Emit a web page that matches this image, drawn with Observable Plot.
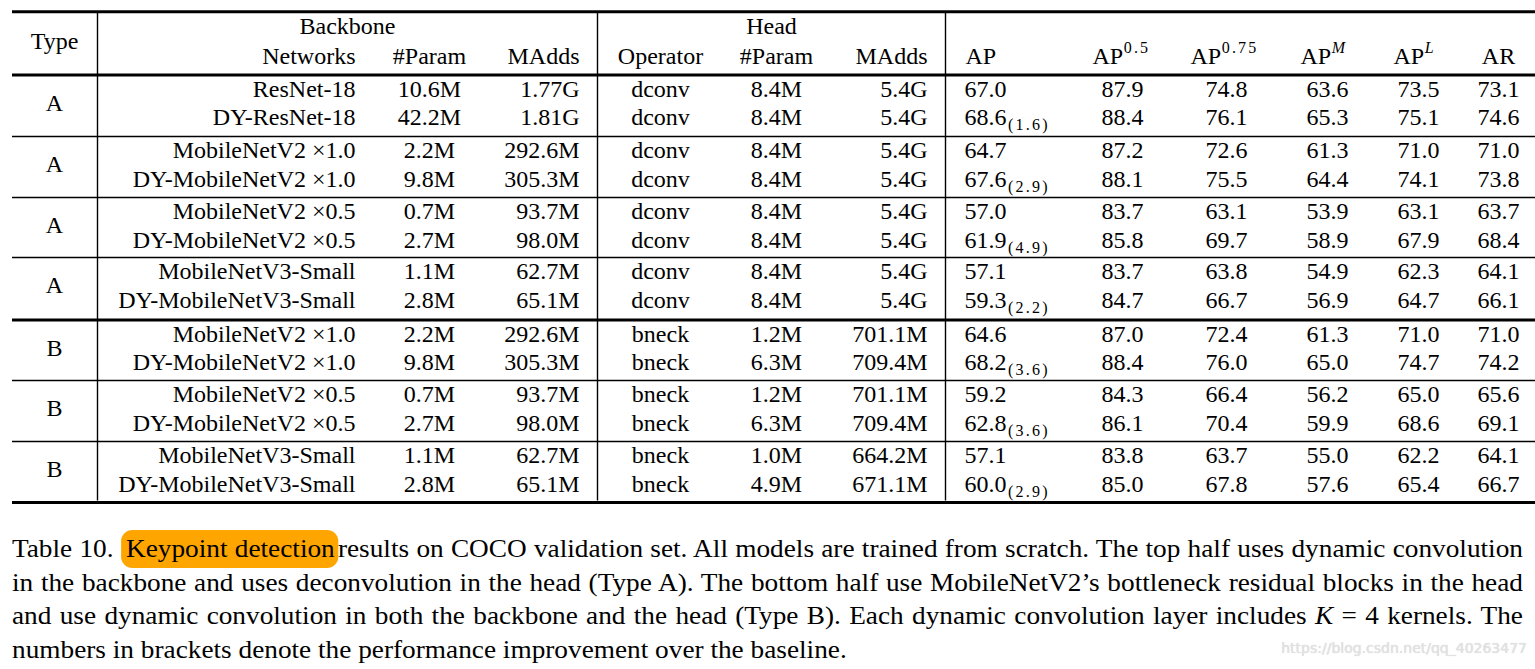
<!DOCTYPE html>
<html>
<head>
<meta charset="utf-8">
<script src="https://cdn.jsdelivr.net/npm/d3@7"></script>
<script src="https://cdn.jsdelivr.net/npm/@observablehq/plot@0.6"></script>
<style>
  html, body { margin: 0; padding: 0; background: #fff; }
  #wrap { position: relative; width: 1535px; height: 669px; overflow: hidden; background: #fff; }
  #chart svg { display: block; }
  .sub text, .sup text { letter-spacing: 2.2px; }
  #caption { position: absolute; left: 12px; top: 532px; width: 1511px; transform-origin: 0 0;
    font-family: "Liberation Serif", "Times New Roman", serif; font-size: 26px; line-height: 33.5px; color: #000; }
  #caption div { white-space: nowrap; }
  #caption .j { text-align: justify; text-align-last: justify; }
  #caption .hl { background: #FFA500; border-radius: 11px; padding: 4px 3px 5px 5px; }
  #wm { position: absolute; right: 8px; top: 640px; font-family: "DejaVu Sans", sans-serif; font-size: 14px;
    color: #e2e2e2; text-shadow: 0 0 1px #cfcfcf; }
</style>
</head>
<body>
<div id="wrap">
  <div id="chart"></div>
  <div id="caption"></div>
  <div id="wm">https://blog.csdn.net/qq_40263477</div>
</div>
<script>
// ---------------- data ----------------
const types = ["A", "A", "A", "A", "B", "B", "B"];
const networks = ["ResNet-18", "DY-ResNet-18",
  "MobileNetV2 ×1.0", "DY-MobileNetV2 ×1.0",
  "MobileNetV2 ×0.5", "DY-MobileNetV2 ×0.5",
  "MobileNetV3-Small", "DY-MobileNetV3-Small",
  "MobileNetV2 ×1.0", "DY-MobileNetV2 ×1.0",
  "MobileNetV2 ×0.5", "DY-MobileNetV2 ×0.5",
  "MobileNetV3-Small", "DY-MobileNetV3-Small"];
const bbParam = ["10.6M", "42.2M", "2.2M", "9.8M", "0.7M", "2.7M", "1.1M", "2.8M",
  "2.2M", "9.8M", "0.7M", "2.7M", "1.1M", "2.8M"];
const bbMAdds = ["1.77G", "1.81G", "292.6M", "305.3M", "93.7M", "98.0M", "62.7M", "65.1M",
  "292.6M", "305.3M", "93.7M", "98.0M", "62.7M", "65.1M"];
const operators = ["dconv", "dconv", "dconv", "dconv", "dconv", "dconv", "dconv", "dconv",
  "bneck", "bneck", "bneck", "bneck", "bneck", "bneck"];
const headParam = ["8.4M", "8.4M", "8.4M", "8.4M", "8.4M", "8.4M", "8.4M", "8.4M",
  "1.2M", "6.3M", "1.2M", "6.3M", "1.0M", "4.9M"];
const headMAdds = ["5.4G", "5.4G", "5.4G", "5.4G", "5.4G", "5.4G", "5.4G", "5.4G",
  "701.1M", "709.4M", "701.1M", "709.4M", "664.2M", "671.1M"];
const ap    = [67.0, 68.6, 64.7, 67.6, 57.0, 61.9, 57.1, 59.3, 64.6, 68.2, 59.2, 62.8, 57.1, 60.0];
const apGain = [null, 1.6, null, 2.9, null, 4.9, null, 2.2, null, 3.6, null, 3.6, null, 2.9];
const ap50  = [87.9, 88.4, 87.2, 88.1, 83.7, 85.8, 83.7, 84.7, 87.0, 88.4, 84.3, 86.1, 83.8, 85.0];
const ap75  = [74.8, 76.1, 72.6, 75.5, 63.1, 69.7, 63.8, 66.7, 72.4, 76.0, 66.4, 70.4, 63.7, 67.8];
const apM   = [63.6, 65.3, 61.3, 64.4, 53.9, 58.9, 54.9, 56.9, 61.3, 65.0, 56.2, 59.9, 55.0, 57.6];
const apL   = [73.5, 75.1, 71.0, 74.1, 63.1, 67.9, 62.3, 64.7, 71.0, 74.7, 65.0, 68.6, 62.2, 65.4];
const ar    = [73.1, 74.6, 71.0, 73.8, 63.7, 68.4, 64.1, 66.1, 71.0, 74.2, 65.6, 69.1, 64.1, 66.7];

const groupLabels = ["Backbone", "Head"];
const subHeaders = ["Networks", "#Param", "MAdds", "Operator", "#Param", "MAdds", "AP", "AR"];
const supHeaders = ["0.5", "0.75", "M", "L"];

// ---------------- layout ----------------
const W = 1535, H = 510;
const FF = "Liberation Serif, Times New Roman, serif";
const FS = 24, SFS = 16;
const groupTop = [74.5, 136, 197, 257, 319.5, 380, 441];
const thinRules = [136, 197, 257, 380, 441];
const thickRules = [11.3, 74.5, 319.5, 502];
const vRules = [97, 597, 945];

const ctx = document.createElement("canvas").getContext("2d");
function tw(s, size, style = "") {
  ctx.font = `${style} ${size}px "Liberation Serif"`;
  return ctx.measureText(s).width;
}

const fmt = v => v.toFixed(1);
const rows = networks.map((n, i) => {
  const g = Math.floor(i / 2), r = i % 2;
  return {
    y: groupTop[g] + 14 + r * 28.5,
    network: n, bbParam: bbParam[i], bbMAdds: bbMAdds[i], operator: operators[i],
    headParam: headParam[i], headMAdds: headMAdds[i],
    ap: fmt(ap[i]), gain: apGain[i], ap50: fmt(ap50[i]), ap75: fmt(ap75[i]),
    apM: fmt(apM[i]), apL: fmt(apL[i]), ar: fmt(ar[i])
  };
});
const groups = types.map((t, g) => ({ type: t, y: groupTop[g] + 14 + 14.25 }));
const gainRows = rows.filter(d => d.gain != null);

const cols = [
  { key: "network", x: 355, anchor: "end" },
  { key: "bbParam", x: 429, anchor: "middle" },
  { key: "bbMAdds", x: 579, anchor: "end" },
  { key: "operator", x: 660, anchor: "middle" },
  { key: "headParam", x: 776, anchor: "middle" },
  { key: "headMAdds", x: 927, anchor: "end" },
  { key: "ap", x: 964, anchor: "start" },
  { key: "ap50", x: 1122, anchor: "middle" },
  { key: "ap75", x: 1226, anchor: "middle" },
  { key: "apM", x: 1327, anchor: "middle" },
  { key: "apL", x: 1418, anchor: "middle" },
  { key: "ar", x: 1498, anchor: "middle" }
];

const headRow2 = [
  { t: subHeaders[0], x: 355, a: "end" },
  { t: subHeaders[1], x: 429, a: "middle" },
  { t: subHeaders[2], x: 579, a: "end" },
  { t: subHeaders[3], x: 660, a: "middle" },
  { t: subHeaders[4], x: 776, a: "middle" },
  { t: subHeaders[5], x: 927, a: "end" },
  { t: subHeaders[6], x: 965, a: "start" },
  { t: subHeaders[7], x: 1498, a: "middle" }
];
const headRow1 = [
  { t: groupLabels[0], x: 347 },
  { t: groupLabels[1], x: 771 }
];
const supStarts = [1092, 1190, 1300, 1393];
const supItalic = [false, false, true, true];
const supData = supHeaders.map((s, i) => ({
  base: "AP", sup: s, x: supStarts[i], xs: supStarts[i] + tw("AP", FS) + 0.5, italic: supItalic[i]
}));

const txt = (data, o) => Plot.text(data, { fontFamily: FF, fontSize: FS, fill: "#000", ...o });

const marks = [
  Plot.ruleY(thinRules, { y: d => d, x1: () => 12, x2: () => W, stroke: "#000", strokeWidth: 1.4 }),
  Plot.ruleY(thickRules, { y: d => d, x1: () => 12, x2: () => W, stroke: "#000", strokeWidth: 3 }),
  Plot.ruleX(vRules, { x: d => d, y1: () => 12.5, y2: () => 500.5, stroke: "#000", strokeWidth: 1.4 }),
  txt([{ t: "Type" }], { x: () => 54, y: () => 41, text: "t" }),
  txt(headRow1, { x: "x", y: () => 26, text: "t" }),
  ...headRow2.map(h => txt([h], { x: "x", y: () => 56, text: "t", textAnchor: h.a })),
  txt(supData, { x: "x", y: () => 56, text: "base", textAnchor: "start" }),
  txt(supData.filter(d => !d.italic), { x: "xs", y: () => 47, text: "sup", textAnchor: "start", fontSize: SFS, className: "sup" }),
  txt(supData.filter(d => d.italic), { x: "xs", y: () => 47, text: "sup", textAnchor: "start", fontSize: SFS, fontStyle: "italic" }),
  txt(groups, { x: () => 54, y: "y", text: "type" }),
  ...cols.map(c => txt(rows, { x: () => c.x, y: "y", text: c.key, textAnchor: c.anchor })),
  txt(gainRows, { x: d => 964 + tw(d.ap, FS) + 1.5, y: d => d.y + 7.5, text: d => `(${d.gain.toFixed(1)})`,
    textAnchor: "start", fontSize: SFS, className: "sub" })
];

const chart = Plot.plot({
  width: W, height: H, margin: 0,
  x: { domain: [0, W], range: [0, W], axis: null },
  y: { domain: [0, H], range: [0, H], axis: null },
  style: { background: "#fff", fontFamily: FF },
  marks
});
document.getElementById("chart").appendChild(chart);

// ---------------- caption ----------------
const captionLines = [
  'Table 10. <span class="hl">Keypoint detection</span>results on COCO validation set. All models are trained from scratch. The top half uses dynamic convolution',
  'in the backbone and uses deconvolution in the head (Type A). The bottom half use MobileNetV2’s bottleneck residual blocks in the head',
  'and use dynamic convolution in both the backbone and the head (Type B). Each dynamic convolution layer includes <i>K</i> = 4 kernels. The',
  'numbers in brackets denote the performance improvement over the baseline.'
];
const cap = document.getElementById("caption");
// measure natural widths first
cap.innerHTML = captionLines.map(l => `<div><span class="m">${l}</span></div>`).join("");
const maxW = Math.max(...Array.from(cap.querySelectorAll(".m")).map(s => s.getBoundingClientRect().width));
const CAPW = 1511;
const s = Math.min(1.08, (CAPW - 8) / maxW);
cap.innerHTML = captionLines
  .map((l, i) => `<div class="${i < captionLines.length - 1 ? "j" : ""}">${l}</div>`).join("");
cap.style.width = (CAPW / s) + "px";
cap.style.transform = `scale(${s}, 1)`;
</script>
</body>
</html>
